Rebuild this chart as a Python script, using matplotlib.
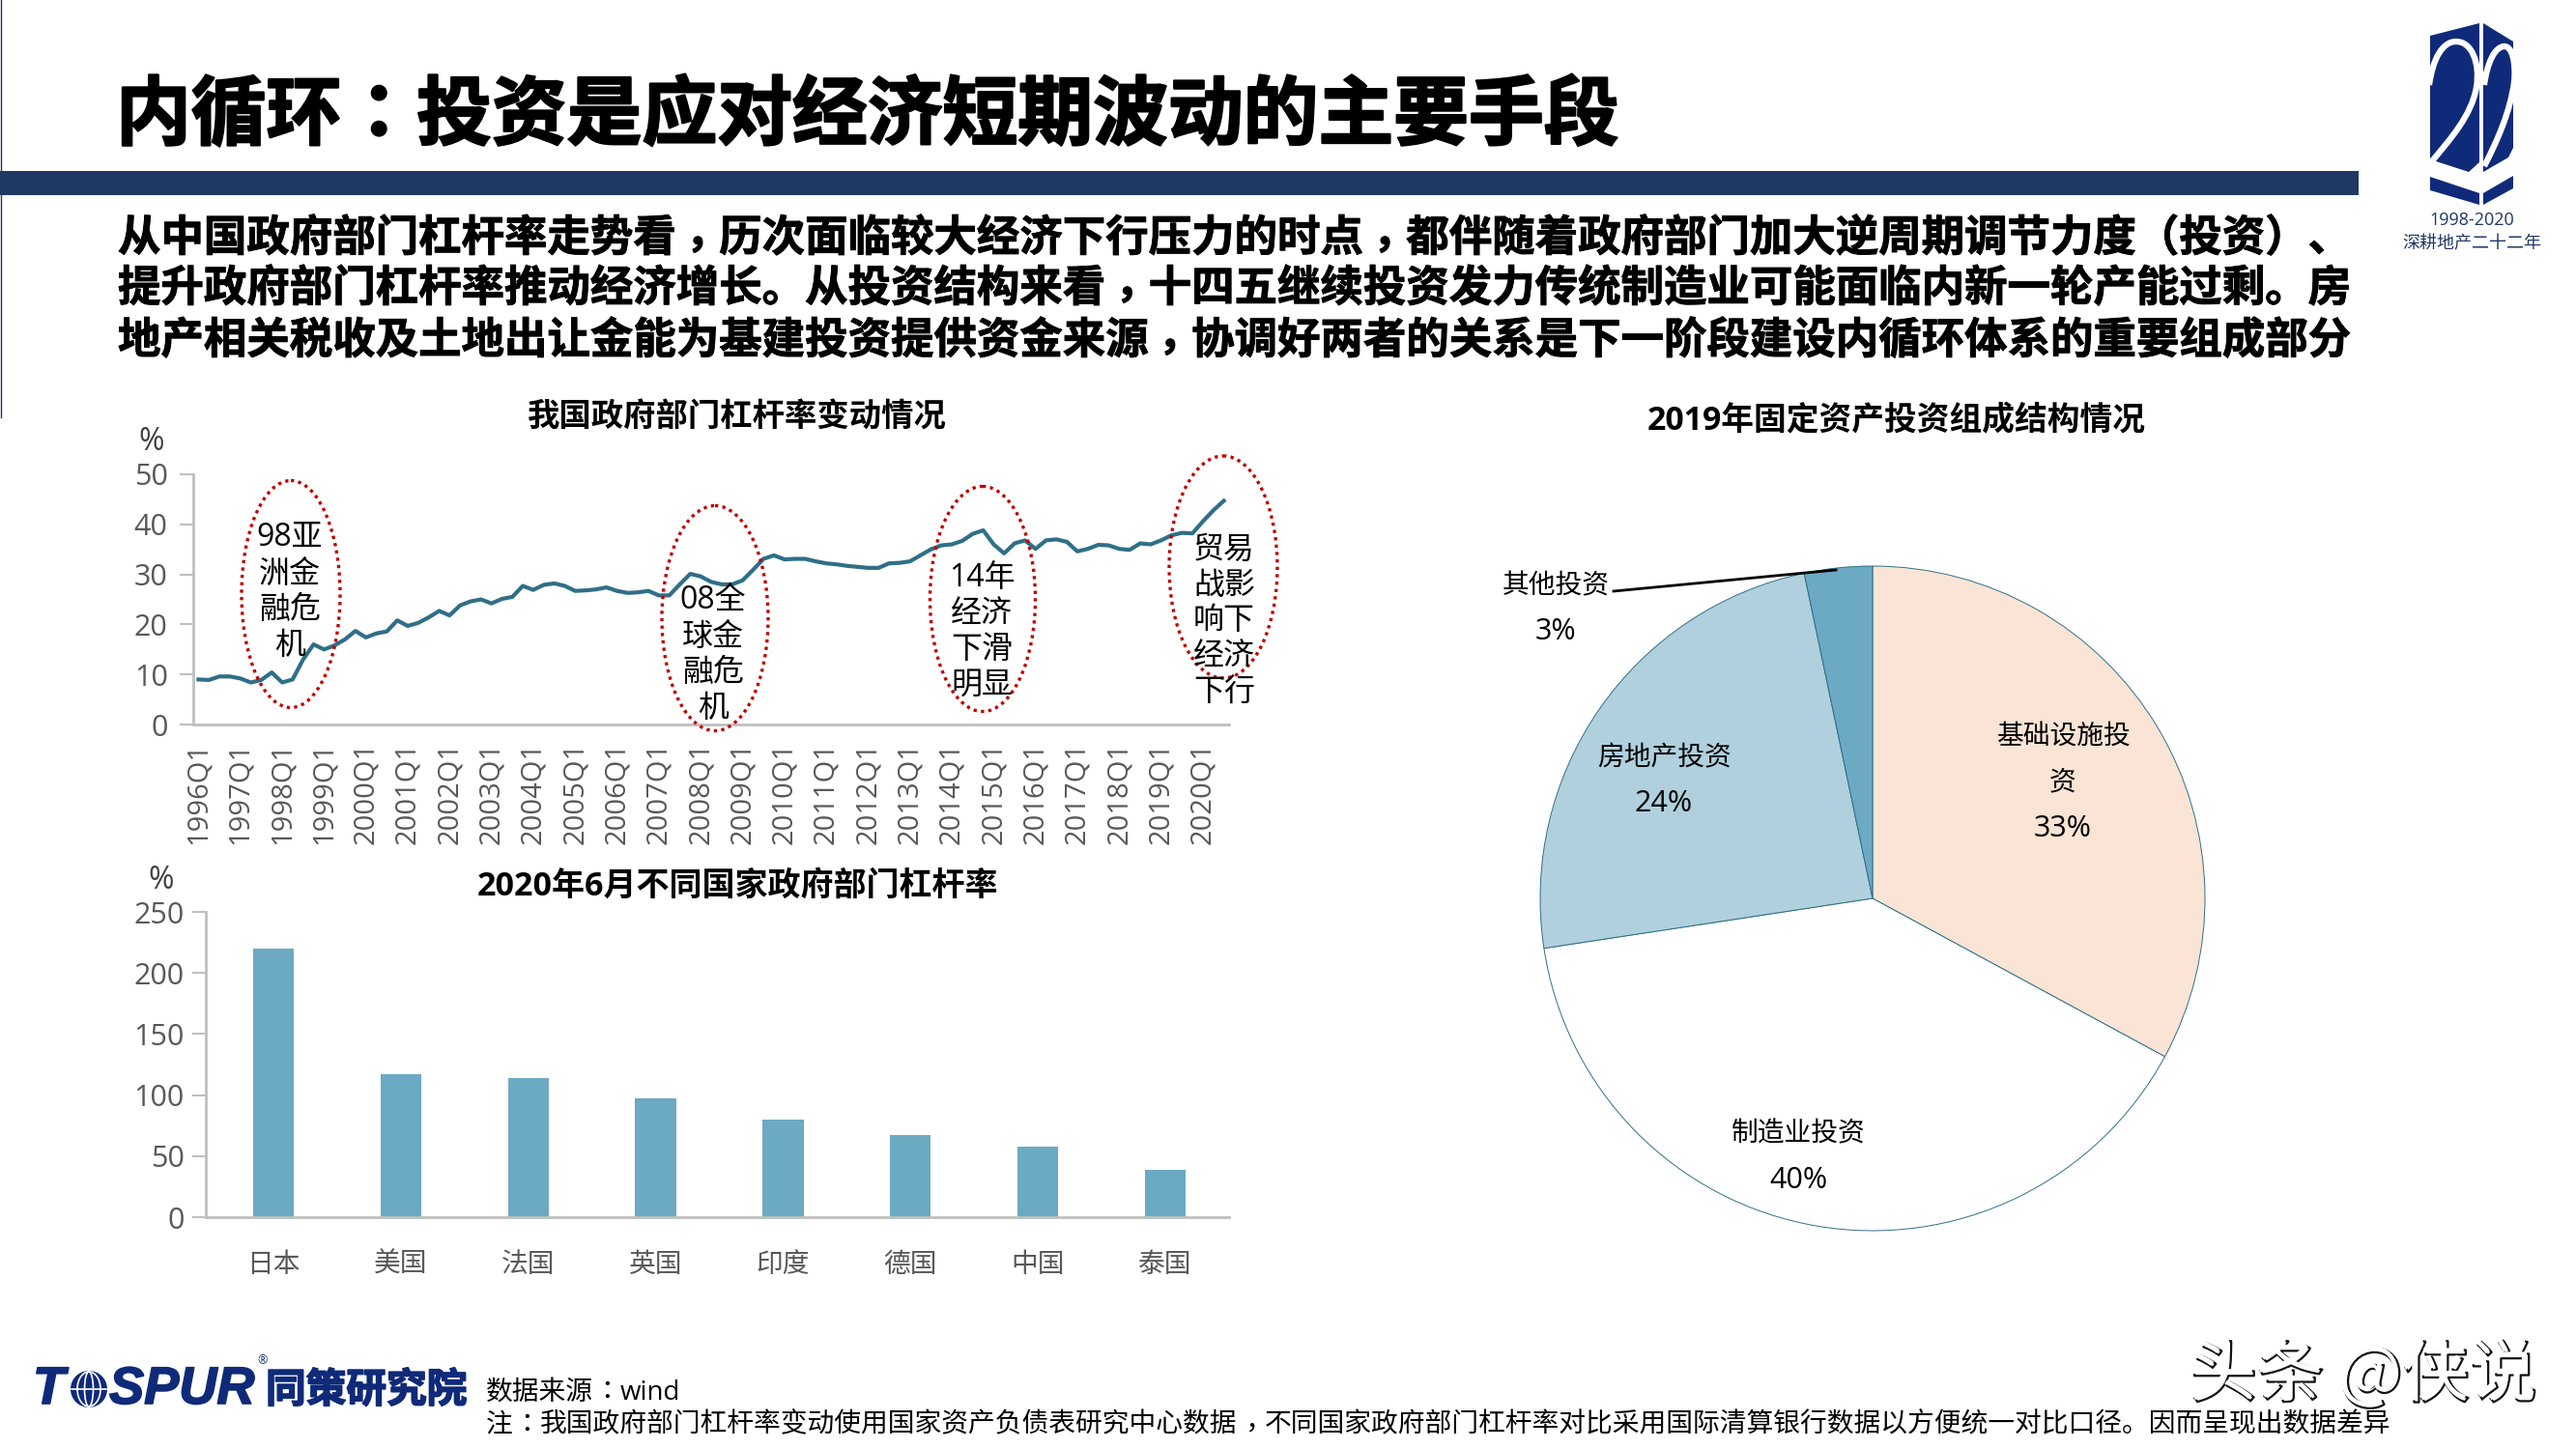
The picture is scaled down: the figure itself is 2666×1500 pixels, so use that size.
import matplotlib
matplotlib.use('Agg')
import matplotlib.pyplot as plt
import matplotlib.patheffects as pe
from matplotlib.patches import Ellipse, Polygon, PathPatch, Rectangle, Circle
from matplotlib.path import Path

plt.rcParams['font.family'] = ['Open Sans', 'Noto Sans CJK SC', 'DejaVu Sans']

W, H = 2666, 1500

# 政府部门杠杆率 (季度)
years = list(range(1996, 2021))
quarters = [f'{y}Q{q}' for y in years for q in (1, 2, 3, 4)][:99]
leverage = [
    9.0, 8.9, 9.6, 9.6, 9.2, 8.4, 8.9, 10.4, 8.4, 9.0, 13.0, 16.0,
    15.0, 15.8, 17.0, 18.7, 17.4, 18.2, 18.6, 20.8, 19.7, 20.3, 21.4, 22.7,
    21.8, 23.8, 24.6, 25.0, 24.2, 25.1, 25.5, 27.7, 26.9, 27.9, 28.2, 27.7,
    26.7, 26.8, 27.0, 27.4, 26.7, 26.3, 26.4, 26.7, 25.8, 25.8, 28.0, 30.1,
    29.6, 28.5, 28.0, 28.0, 28.8, 30.9, 33.1, 33.8, 33.0, 33.1, 33.1, 32.6,
    32.2, 32.0, 31.7, 31.5, 31.3, 31.3, 32.2, 32.3, 32.6, 33.8, 35.0, 35.8,
    36.0, 36.7, 38.1, 38.8, 36.0, 34.2, 36.2, 36.8, 35.1, 36.8, 37.0, 36.5,
    34.6, 35.1, 35.9, 35.8, 35.1, 34.9, 36.2, 36.0, 36.8, 37.8, 38.3, 38.2,
    40.6, 42.8, 44.7,
]

# 2020年6月不同国家
countries = ['日本', '美国', '法国', '英国', '印度', '德国', '中国', '泰国']
country_values = [220, 117, 114, 97, 80, 67, 58, 39]

# 2019年固定资产投资
pie_names = ['基础设施投\n资', '制造业投资', '房地产投资', '其他投资']
pie_shares = [32.9, 39.7, 24.1, 3.3]

title = '内循环：投资是应对经济短期波动的主要手段'
body_lines = [
    '从中国政府部门杠杆率走势看，历次面临较大经济下行压力的时点，都伴随着政府部门加大逆周期调节力度（投资）、',
    '提升政府部门杠杆率推动经济增长。从投资结构来看，十四五继续投资发力传统制造业可能面临内新一轮产能过剩。房',
    '地产相关税收及土地出让金能为基建投资提供资金来源，协调好两者的关系是下一阶段建设内循环体系的重要组成部分',
]
source = '数据来源：wind'
note = '注：我国政府部门杠杆率变动使用国家资产负债表研究中心数据，不同国家政府部门杠杆率对比采用国际清算银行数据以方便统一对比口径。因而呈现出数据差异'

GRAY = '#595959'
AXIS = '#BFBFBF'
NAVY = '#1F3864'
LOGO = '#0F2A78'
# 居中的标点用繁体字形，逗号再往下放一点
PUNCT_DROP = {'：': 0.0, '，': 0.2}


def px_axes(left, top, right, bottom, **kw):
    return fig.add_axes([left / W, 1 - bottom / H, (right - left) / W, (bottom - top) / H], **kw)


def cjk_line(ax, x, y, s, size, **kw):
    # 全角文字逐段放，标点单独放
    em = size * 100 / 72
    base = y + 0.38 * em
    start = 0
    for i, c in enumerate(s):
        if c in PUNCT_DROP:
            if i > start:
                ax.text(x + start * em, base, s[start:i], fontsize=size, va='baseline',
                        family='Noto Sans CJK SC', **kw)
            ax.text(x + i * em, base + PUNCT_DROP[c] * em, c, fontsize=size, va='baseline',
                    family='Noto Sans CJK TC', **kw)
            start = i + 1
    if start < len(s):
        ax.text(x + start * em, base, s[start:], fontsize=size, va='baseline',
                family=['Open Sans', 'Noto Sans CJK SC'], **kw)


def style_axis(ax, pad):
    ax.tick_params(axis='y', length=10, width=1.5, color=AXIS, pad=pad, labelsize=22,
                   labelcolor=GRAY, labelfontfamily='Open Sans')
    for s in ('top', 'right'):
        ax.spines[s].set_visible(False)
    for s in ('left', 'bottom'):
        ax.spines[s].set_color(AXIS)
        ax.spines[s].set_linewidth(2)


fig = plt.figure(figsize=(W / 100, H / 100), dpi=100, facecolor='white')

# 页面层，像素坐标
bg = fig.add_axes([0, 0, 1, 1])
bg.set_xlim(0, W)
bg.set_ylim(H, 0)
bg.axis('off')

bg.add_patch(Rectangle((0, 177), 2441, 25, color=NAVY, lw=0))
bg.plot([1, 1], [0, 432], color=NAVY, lw=1)
heavy = [pe.withStroke(linewidth=1.6, foreground='black')]
cjk_line(bg, 120, 114, title, 56, fontweight='bold', color='black', path_effects=heavy)
body_fx = [pe.withStroke(linewidth=0.7, foreground='black')]
for ypos, line in zip([243, 295, 349], body_lines):
    cjk_line(bg, 122, ypos, line, 32, fontweight='bold', color='black', path_effects=body_fx)

bg.text(763, 433, '我国政府部门杠杆率变动情况', fontsize=24, fontweight='bold', ha='center', va='center')
bg.text(763, 918, '2020年6月不同国家政府部门杠杆率', fontsize=24.5, fontweight='bold', ha='center', va='center')
bg.text(1963, 436, '2019年固定资产投资组成结构情况', fontsize=24.3, fontweight='bold', ha='center', va='center')
bg.text(157, 457, '%', fontsize=23, color='#404040', ha='center', va='center')
bg.text(167, 911, '%', fontsize=23, color='#404040', ha='center', va='center')

# 折线图
ax1 = px_axes(200, 491, 1272, 750)
ax1.plot(range(len(leverage)), leverage, color='#2F6F87', lw=3)
ax1.set_xlim(-0.5, len(leverage) - 0.5)
ax1.set_ylim(0, 50)
ax1.set_yticks(range(0, 51, 10))
ax1.set_xticks(range(0, len(quarters), 4))
ax1.set_xticklabels(quarters[::4], rotation=90)
ax1.tick_params(axis='x', length=0, pad=13, labelsize=21, labelcolor=GRAY, labelfontfamily='Open Sans')
style_axis(ax1, 9)

# 柱状图
ax2 = px_axes(213, 944, 1272, 1260)
ax2.bar(countries, country_values, width=0.32, color='#6CA9C2')
ax2.set_xlim(-0.53, len(countries) - 0.5)
ax2.set_ylim(0, 250)
ax2.set_yticks(range(0, 251, 50))
ax2.tick_params(axis='x', length=0, pad=26, labelsize=20, labelcolor=GRAY)
style_axis(ax2, 6)

# 饼图
ax3 = px_axes(1938 - 344, 930 - 344, 1938 + 344, 930 + 344)
ax3.pie(pie_shares, colors=['#FAE4D5', 'white', '#B0D0DE', '#6CA9C2'], startangle=90, counterclock=False,
        radius=1, wedgeprops={'edgecolor': '#2F6F87', 'linewidth': 0.7})
ax3.set_xlim(-1, 1)
ax3.set_ylim(-1, 1)

# 页面上层的标注
top = fig.add_axes([0, 0, 1, 1])
top.set_xlim(0, W)
top.set_ylim(H, 0)
top.axis('off')
top.patch.set_alpha(0)

for cx, cy, w, h in [(301, 615, 102, 235), (740, 640, 110, 233), (1017, 620, 109, 233), (1266, 587, 112, 230)]:
    top.add_patch(Ellipse((cx, cy), w, h, fill=False, edgecolor='#C00000', lw=2.4, ls=(0, (1, 1.3))))

notes = [
    (300, 557, ['98亚', '洲金', '融危', '机']),
    (738, 622, ['08全', '球金', '融危', '机']),
    (1016, 598, ['14年', '经济', '下滑', '明显']),
    (1267, 569, ['贸易', '战影', '响下', '经济', '下行']),
]
for cx, y0, lines in notes:
    for i, line in enumerate(lines):
        top.text(cx, y0 + i * 37, line, fontsize=23, ha='center', va='center', color='black')

pie_label_pos = [(2135, 763), (1861, 1174), (1722, 785), (1610, 607)]
for (lx, ly), name, share in zip(pie_label_pos, pie_names, pie_shares):
    rows = name.split('\n')
    for i, row in enumerate(rows):
        top.text(lx, ly + i * 47.5, row, fontsize=20, ha='center', va='center', color='black')
    top.text(lx, ly + len(rows) * 47.5, f'{share:.0f}%', fontsize=22, ha='center', va='center', color='black')
top.plot([1670, 1900], [612, 590], color='black', lw=2)

# 页脚
cjk_line(top, 503, 1438, source, 20, color='black')
cjk_line(top, 503, 1472, note, 20, color='black')

logo_fx = [pe.withStroke(linewidth=1.2, foreground=LOGO)]
top.text(34, 1453, 'T', fontsize=39, family='Liberation Sans', fontweight='bold', style='italic',
         color=LOGO, path_effects=logo_fx)
top.text(113, 1453, 'SPUR', fontsize=39, family='Liberation Sans', fontweight='bold', style='italic',
         color=LOGO, path_effects=logo_fx)
top.add_patch(Circle((92, 1438), 19, facecolor=LOGO, edgecolor='none'))
for ew in (9, 24):
    top.add_patch(Ellipse((92, 1438), ew, 36, fill=False, edgecolor='white', lw=1.2))
top.plot([74, 110], [1438, 1438], color='white', lw=1.2)
top.text(266, 1409, '®', fontsize=9, va='center', color=LOGO)
top.text(275, 1441, '同策研究院', fontsize=30, fontweight='bold', va='center', color=LOGO, path_effects=logo_fx)

# 右上角 22 周年标志
for poly in [
    [(2515, 37), (2566, 24), (2566, 168), (2555, 178), (2515, 165)],
    [(2570, 24), (2601, 43), (2601, 153), (2596, 163), (2570, 178)],
    [(2515, 183), (2566, 200), (2566, 212), (2515, 197)],
    [(2570, 200), (2601, 182), (2601, 195), (2570, 212)],
]:
    top.add_patch(Polygon(poly, color=LOGO, lw=0))
curve = [Path.MOVETO] + [Path.CURVE4] * 9
left_two = [(2514, 88), (2518, 60), (2528, 43), (2542, 43), (2558, 43), (2567, 65), (2563, 90),
            (2558, 120), (2535, 145), (2516, 168)]
right_two = [(2571, 88), (2574, 65), (2582, 48), (2592, 48), (2600, 48), (2604, 65), (2602, 85),
             (2598, 115), (2585, 145), (2571, 172)]
for verts in (left_two, right_two):
    top.add_patch(PathPatch(Path(verts, curve), facecolor='none', edgecolor='white', lw=4.5))
top.text(2558, 228, '1998-2020', fontsize=13, ha='center', va='center', color=NAVY)
top.text(2558, 252, '深耕地产二十二年', fontsize=13, ha='center', va='center', color=NAVY)

# 水印
top.text(2265, 1424, '头条 @侠说', fontsize=50, va='center', color='white', family='Noto Sans CJK SC',
         path_effects=[pe.Stroke(linewidth=1.6, foreground='#111111', offset=(1.5, -1.5)), pe.Normal()])

fig.savefig('out.png', dpi=100)
